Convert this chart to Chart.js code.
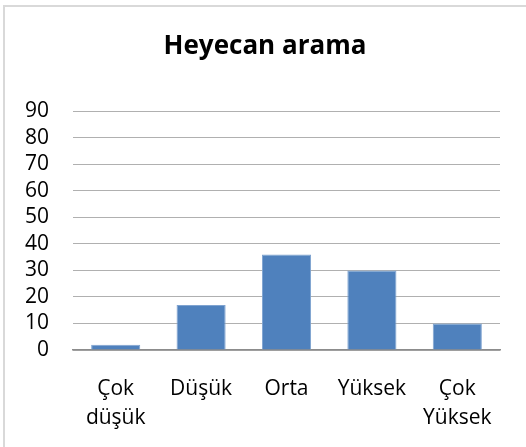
<!DOCTYPE html>
<html lang="tr">
<head>
  <meta charset="UTF-8" />
  <title>Heyecan arama</title>
  <script src="https://cdn.jsdelivr.net/npm/chart.js"></script>
  <style>
    * { box-sizing: border-box; margin: 0; padding: 0; }
    body { width: 526px; height: 447px; overflow: hidden; background: #fff; position: relative; }
    .frame {
      position: absolute; left: 3px; top: 5px; width: 600px; height: 500px;
      border-left: 2px solid #d9d9d9; border-top: 2px solid #d9d9d9;
    }
    .wrap { position: absolute; left: 0; top: 0; width: 526px; height: 447px; }
  </style>
</head>
<body>
  <div class="frame"></div>
  <div class="wrap"><canvas id="chart"></canvas></div>
  <script>
    const categories = [["Çok", "düşük"], "Düşük", "Orta", "Yüksek", ["Çok", "Yüksek"]];
    const values = [2, 17, 36, 30, 10];
    const yMin = 0, yMax = 90, yStep = 10;

    const font = "'Open Sans', 'Noto Sans', sans-serif";

    // title is centred on the whole frame, not on the padded area
    const widenTitle = {
      id: "widenTitle",
      afterLayout(chart) {
        const t = chart.titleBlock;
        if (!t) return;
        t.left = 4;
        t.right = chart.width;
        t.width = t.right - t.left;
      }
    };

    new Chart(document.getElementById("chart"), {
      type: "bar",
      data: {
        labels: categories,
        datasets: [{
          label: "Heyecan arama",
          data: values,
          backgroundColor: "#4F81BD",
          borderColor: "#7FA3D0",
          borderWidth: 1,
          barPercentage: 0.575,
          categoryPercentage: 1
        }]
      },
      plugins: [widenTitle],
      options: {
        responsive: true,
        maintainAspectRatio: false,
        animation: false,
        layout: { padding: { left: 0, right: 26, top: 0, bottom: 0 } },
        plugins: {
          legend: { display: false },
          tooltip: { enabled: false },
          title: {
            display: true,
            text: "Heyecan arama",
            color: "#000",
            font: { family: font, size: 26, weight: "bold", lineHeight: 1.2 },
            padding: { top: 31, bottom: 49 }
          }
        },
        scales: {
          x: {
            grid: { display: false, drawTicks: false },
            border: { display: true, color: "#8c8c8c", width: 1.5 },
            ticks: {
              color: "#000",
              font: { family: font, size: 21, lineHeight: 1.36 },
              padding: 25,
              maxRotation: 0,
              autoSkip: false
            },
            afterFit: s => { s.height = 97; }
          },
          y: {
            min: yMin,
            max: yMax,
            grid: { color: "#b0b0b0", lineWidth: 1, drawTicks: false },
            border: { display: false },
            ticks: {
              stepSize: yStep,
              autoSkip: false,
              color: "#000",
              font: { family: font, size: 21 },
              padding: 24
            },
            afterFit: s => { s.width = 73; }
          }
        }
      }
    });
  </script>
</body>
</html>
